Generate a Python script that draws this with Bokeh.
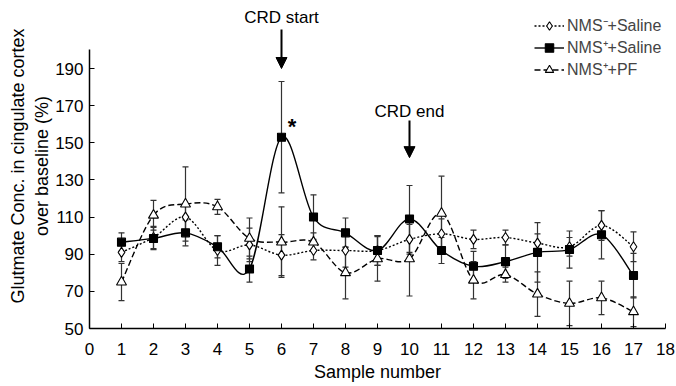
from bokeh.plotting import figure
from bokeh.models import (ColumnDataSource, Whisker, TeeHead, Arrow, NormalHead,
                          Label, Legend, LegendItem, FixedTicker, Range1d)
from bokeh.embed import file_html
from bokeh.resources import INLINE

samples = list(range(1, 18))

nms_neg_saline = [91, 99, 110, 92, 95, 89.5, 92, 92, 92, 98, 101, 98, 99, 96, 94, 105.5, 94]
nms_neg_saline_err = [5, 6, 7, 8, 9, 11, 5, 9, 8, 8, 8, 5, 4, 5, 5, 8, 8]

nms_pos_saline = [96.5, 98.5, 101.5, 94, 82, 153, 110, 101.5, 92, 109, 92, 83.5, 86, 91, 92.5, 100.5, 78.5]
nms_pos_saline_err = [5, 6, 7, 6, 7, 30, 12, 8, 8, 18, 7, 8, 9, 16, 10, 13, 12]

nms_pos_pf = [75, 111, 117, 115.5, 98.5, 96.5, 96.5, 80, 87.5, 87.5, 112, 76, 79, 68.5, 63.5, 66.5, 59]
nms_pos_pf_err = [10, 8, 20, 4, 11, 19, 5, 14, 12, 20, 20, 10, 4, 12, 12, 9, 8]

x_ticks = list(range(0, 19))
y_ticks = [50, 70, 90, 110, 130, 150, 170, 190]

FONT = "Liberation Sans"

p = figure(width=676, height=386, output_backend="svg", toolbar_location=None,
           x_range=Range1d(0, 18), y_range=Range1d(50, 225),
           min_border_left=89, min_border_right=11, min_border_top=3, min_border_bottom=58)
p.outline_line_color = None
p.grid.visible = False
p.background_fill_color = "white"

for ax in (p.xaxis[0], p.yaxis[0]):
    ax.axis_line_color = "black"
    ax.axis_line_width = 1.5
    ax.major_tick_in = 5
    ax.major_tick_out = 0
    ax.minor_tick_line_color = None
    ax.major_tick_line_color = "black"
    ax.major_tick_line_width = 1
    ax.major_label_text_font = FONT
    ax.major_label_text_font_size = "17px"
    ax.major_label_text_color = "black"
    ax.axis_label_text_font = FONT
    ax.axis_label_text_font_size = "18px"
    ax.axis_label_text_font_style = "normal"
    ax.axis_label_text_color = "black"

p.yaxis.bounds = (50, 200)
p.xaxis.ticker = FixedTicker(ticks=x_ticks)
p.yaxis.ticker = FixedTicker(ticks=y_ticks)
p.xaxis.axis_label = "Sample number"
p.yaxis.axis_label = "Glutmate Conc. in cingulate cortex\nover baseline (%)"
p.xaxis.major_label_standoff = 14
p.yaxis.major_label_standoff = 6
p.xaxis.axis_label_standoff = 4
p.yaxis.axis_label_standoff = 0


def bezier_source(xs, ys):
    n = len(xs)
    d = dict(x0=[], y0=[], x1=[], y1=[], cx0=[], cy0=[], cx1=[], cy1=[])
    for i in range(n - 1):
        xa, ya = (xs[i - 1], ys[i - 1]) if i > 0 else (xs[i], ys[i])
        xb, yb = xs[i], ys[i]
        xc, yc = xs[i + 1], ys[i + 1]
        xd, yd = (xs[i + 2], ys[i + 2]) if i + 2 < n else (xc, yc)
        d["x0"].append(xb); d["y0"].append(yb)
        d["x1"].append(xc); d["y1"].append(yc)
        d["cx0"].append(xb + (xc - xa) / 6.0); d["cy0"].append(yb + (yc - ya) / 6.0)
        d["cx1"].append(xc - (xd - xb) / 6.0); d["cy1"].append(yc - (yd - yb) / 6.0)
    return ColumnDataSource(d)


series = [
    ("NMS\u207b+Saline", nms_neg_saline, nms_neg_saline_err, "2 2", "diamond", "white", 10),
    ("NMS\u207a+Saline", nms_pos_saline, nms_pos_saline_err, "solid", "square", "black", 8),
    ("NMS\u207a+PF", nms_pos_pf, nms_pos_pf_err, "6 3", "triangle", "white", 10),
]

items = []
for label, vals, errs, dash, marker, fill, size in series:
    src = ColumnDataSource(dict(x=samples, y=vals,
                                upper=[v + e for v, e in zip(vals, errs)],
                                lower=[v - e for v, e in zip(vals, errs)]))
    w = Whisker(source=src, base="x", upper="upper", lower="lower",
                line_color="#333333", line_width=1.2,
                upper_head=TeeHead(size=6, line_color="#333333", line_width=1.2),
                lower_head=TeeHead(size=6, line_color="#333333", line_width=1.2))
    p.add_layout(w)
    p.bezier(x0="x0", y0="y0", x1="x1", y1="y1", cx0="cx0", cy0="cy0", cx1="cx1", cy1="cy1",
             source=bezier_source(samples, vals), line_color="black", line_width=1.4,
             line_dash=dash)
    leg_line = p.line(x=[samples[0], samples[1]], y=[float("nan"), float("nan")],
                      line_color="black", line_width=1.4, line_dash=dash)
    sc = p.scatter(x="x", y="y", source=src, marker=marker, size=size,
                   fill_color=fill, line_color="black", line_width=1.1)
    items.append(LegendItem(label=label, renderers=[leg_line, sc]))

legend = Legend(items=items, location=(445, 248), border_line_color=None,
                background_fill_alpha=0, label_text_font=FONT, label_text_font_size="16px",
                glyph_width=30, glyph_height=21, label_height=21, label_standoff=3,
                spacing=0, padding=0, margin=0)
p.add_layout(legend, "center")

# Annotations
p.add_layout(Arrow(end=NormalHead(size=11, fill_color="black", line_color="black"),
                   x_start=6, y_start=211, x_end=6, y_end=190,
                   line_color="black", line_width=2))
p.add_layout(Arrow(end=NormalHead(size=11, fill_color="black", line_color="black"),
                   x_start=10, y_start=162, x_end=10, y_end=142,
                   line_color="black", line_width=2))
p.add_layout(Label(x=6, y=217.5, text="CRD start", text_align="center", text_baseline="middle",
                   text_font=FONT, text_font_size="17px", text_color="black"))
p.add_layout(Label(x=10, y=167, text="CRD end", text_align="center", text_baseline="middle",
                   text_font=FONT, text_font_size="17px", text_color="black"))
p.add_layout(Label(x=6.33, y=159, text="*", text_align="center", text_baseline="middle",
                   text_font=FONT, text_font_size="22px", text_font_style="bold", text_color="black"))

open("out.html", "w").write(file_html(p, INLINE))
